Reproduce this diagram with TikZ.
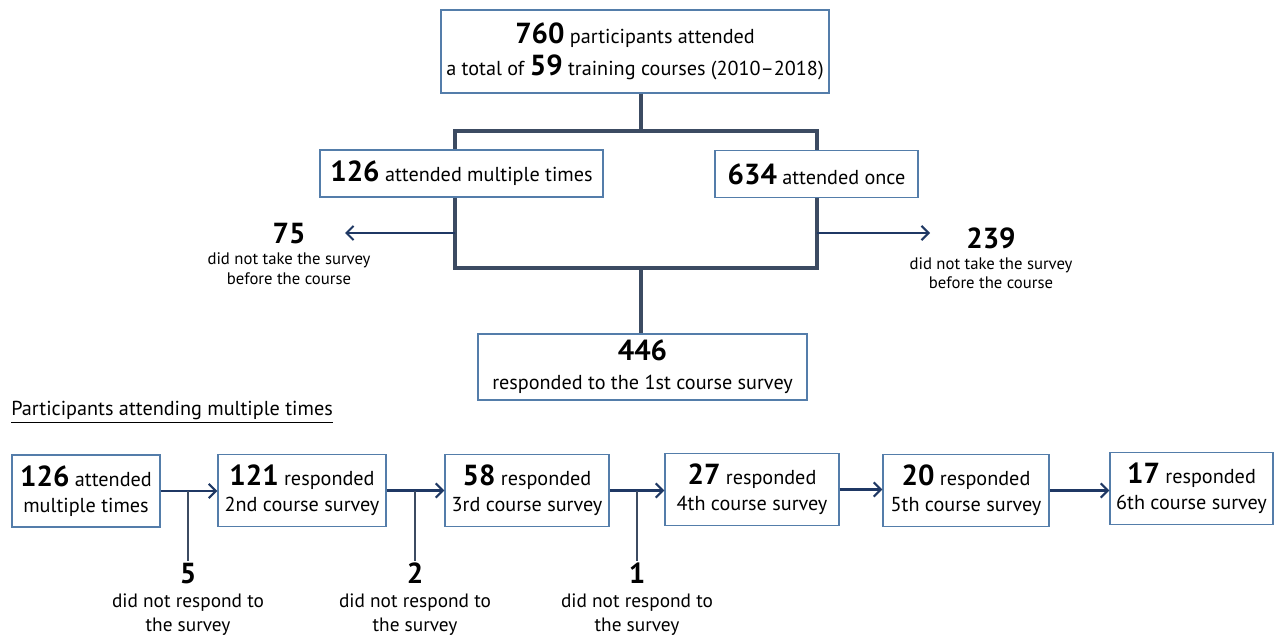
\documentclass[tikz,border=0pt]{standalone}
\usepackage{fontspec}
\setmainfont{PT Sans}
\usetikzlibrary{arrows.meta}

\definecolor{boxblue}{RGB}{84,125,170}
\definecolor{trunkgray}{RGB}{60,75,98}
\definecolor{flownavy}{RGB}{31,56,100}

\newcommand\bignum[1]{{\fontsize{16.5}{18}\selectfont\bfseries #1}}
\newcommand\midfont{\fontsize{11.5}{18.5}\selectfont}
\newcommand\chainfont{\fontsize{11.5}{14.8}\selectfont}
\newcommand\smallfont{\fontsize{9.5}{11}\selectfont}
\newcommand\missfont{\fontsize{11}{13.6}\selectfont}

\begin{document}
\begin{tikzpicture}[
    x=0.02cm, y=-0.02cm,
    box/.style={draw=boxblue, line width=0.85pt, align=center, inner sep=2pt,
                font=\midfont},
    chainbox/.style={box, font=\chainfont, minimum height=1.44cm},
    trunk/.style={draw=trunkgray, line width=1.8pt},
    drop/.style={draw=trunkgray, line width=1.1pt},
    flow/.style={draw=flownavy, line width=1.2pt,
                 -{Straight Barb[length=4pt,width=8pt]}},
    note/.style={align=center, inner sep=1pt}
  ]
  \useasboundingbox (0,0) rectangle (1274,638);

  % upper part
  \node[box, minimum width=7.76cm, minimum height=1.66cm] (top) at (635,51.5)
    {\bignum{760} participants attended\\
     a total of \bignum{59} training courses (2010--2018)};
  \node[box, minimum width=5.66cm, minimum height=0.94cm] (multi) at (461.5,173.5)
    {\bignum{126} attended multiple times};
  \node[box, minimum width=4.06cm, minimum height=0.94cm] (once) at (816.5,174)
    {\bignum{634} attended once};
  \node[box, minimum width=6.58cm, minimum height=1.32cm,
        font=\fontsize{11.5}{16.5}\selectfont] (resp) at (642.5,367)
    {\bignum{446}\\ responded to the 1st course survey};

  \node[note, font=\smallfont] (skipL) at (289,254)
    {\bignum{75}\\[1pt] did not take the survey\\ before the course};
  \node[note, font=\smallfont] (skipR) at (991,258)
    {\bignum{239}\\[1pt] did not take the survey\\ before the course};

  \coordinate (jl) at (455,131);
  \coordinate (jr) at (817,131);
  \coordinate (kl) at (455,268);
  \coordinate (kr) at (817,268);
  \coordinate (tipL) at (345,233);
  \coordinate (tipR) at (930,233);

  \draw[trunk] (top.south -| 641,0) -- (641,131);
  \draw[trunk] (jl |- multi.north) -- (jl) -- (jr) -- (jr |- once.north);
  \draw[trunk] (jl |- multi.south) -- (kl) -- (kr) -- (kr |- once.south);
  \draw[trunk] (641,268) -- (resp.north -| 641,0);
  \draw[flow] (455,233) -- (tipL);
  \draw[flow] (817,233) -- (tipR);

  % lower part
  \node[anchor=west, inner sep=0pt, font=\fontsize{11.5}{14}\selectfont] (head)
    at (11,412) {\underline{Participants attending multiple times}};

  \node[chainbox, minimum width=2.96cm] (b1) at (86,491)
    {\bignum{126} attended\\ multiple times};
  \node[chainbox, minimum width=3.36cm] (b2) at (302,490.5)
    {\bignum{121} responded\\ 2nd course survey};
  \node[chainbox, minimum width=3.28cm] (b3) at (527,490.5)
    {\bignum{58} responded\\ 3rd course survey};
  \node[chainbox, minimum width=3.48cm] (b4) at (752,489.5)
    {\bignum{27} responded\\ 4th course survey};
  \node[chainbox, minimum width=3.32cm] (b5) at (966,490.5)
    {\bignum{20} responded\\ 5th course survey};
  \node[chainbox, minimum width=3.26cm] (b6) at (1191.5,488.5)
    {\bignum{17} responded\\ 6th course survey};

  \foreach \a/\b in {b1/b2, b2/b3, b3/b4, b4/b5, b5/b6}
    \draw[flow] (\a.east) -- (\a.east -| \b.west);

  \foreach \a/\x/\v [count=\i] in {b1/188/5, b2/415/2, b3/637/1} {
    \node[note, font=\missfont, anchor=north] (miss\i) at (\x,561)
      {\bignum{\v}\\ did not respond to\\ the survey};
    \draw[drop] (\x,0 |- \a.east) -- (miss\i.north);
  }
\end{tikzpicture}
\end{document}
